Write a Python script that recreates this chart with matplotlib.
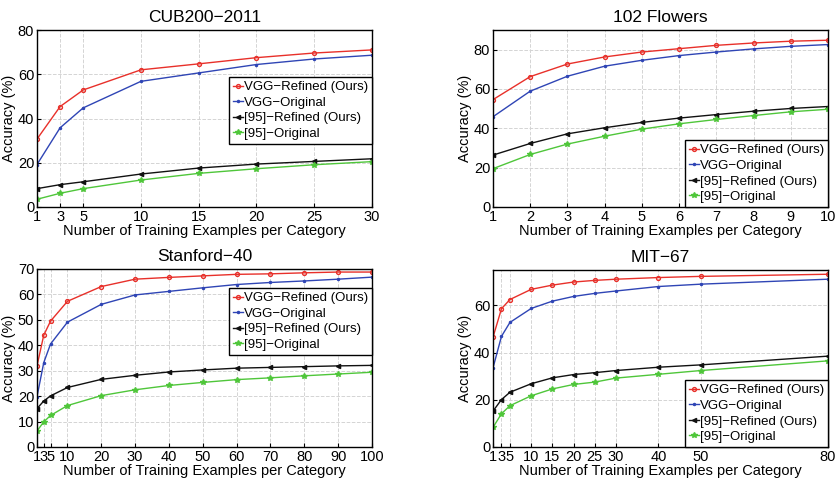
import matplotlib
matplotlib.use('Agg')
import matplotlib.pyplot as plt

plt.rcParams['font.family'] = ['Liberation Sans', 'DejaVu Sans']

M = '\u2212'
labels = ['VGG%sRefined (Ours)' % M, 'VGG%sOriginal' % M,
          '[95]%sRefined (Ours)' % M, '[95]%sOriginal' % M]

# CUB200-2011
cub_x = [1, 3, 5, 10, 15, 20, 25, 30]
cub_vgg_ref = [30.7, 45.4, 52.9, 62.0, 64.7, 67.5, 69.6, 71.0]
cub_vgg_org = [19.2, 35.8, 44.8, 56.8, 60.6, 64.4, 66.9, 68.6]
cub_95_ref = [8.3, 10.1, 11.4, 14.9, 17.6, 19.4, 20.6, 21.8]
cub_95_org = [3.5, 6.2, 8.3, 12.2, 15.2, 17.3, 19.1, 20.5]

# 102 Flowers
flw_x = [1, 2, 3, 4, 5, 6, 7, 8, 9, 10]
flw_vgg_ref = [54.6, 66.3, 72.7, 76.3, 78.8, 80.5, 82.2, 83.4, 84.3, 84.8]
flw_vgg_org = [45.9, 58.9, 66.5, 71.6, 74.6, 77.0, 78.8, 80.4, 81.7, 82.6]
flw_95_ref = [26.4, 32.3, 37.2, 40.3, 43.0, 45.2, 47.0, 48.7, 50.1, 51.1]
flw_95_org = [19.5, 26.7, 32.0, 36.0, 39.6, 42.3, 44.5, 46.5, 48.4, 49.7]

# Stanford-40
stf_x = [1, 3, 5, 10, 20, 30, 40, 50, 60, 70, 80, 90, 100]
stf_vgg_ref = [31.9, 44.0, 49.5, 57.3, 63.1, 66.0, 66.7, 67.3, 67.9, 68.1, 68.5, 68.8, 68.8]
stf_vgg_org = [19.8, 33.2, 40.5, 49.1, 56.1, 59.8, 61.2, 62.6, 63.9, 64.7, 65.3, 66.0, 66.8]
stf_95_ref = [15.1, 18.1, 20.1, 23.4, 26.6, 28.2, 29.5, 30.3, 31.0, 31.3, 31.6, 31.9, 32.1]
stf_95_org = [6.3, 9.9, 12.4, 16.3, 20.2, 22.5, 24.2, 25.4, 26.5, 27.2, 28.0, 28.7, 29.4]

# MIT-67
mit_x = [1, 3, 5, 10, 15, 20, 25, 30, 40, 50, 80]
mit_vgg_ref = [46.5, 58.6, 62.5, 66.8, 68.6, 69.9, 70.6, 71.1, 71.8, 72.3, 73.2]
mit_vgg_org = [33.5, 46.9, 52.8, 58.7, 61.8, 63.8, 65.1, 66.1, 68.0, 69.0, 71.1]
mit_95_ref = [15.2, 20.1, 23.2, 26.8, 29.3, 30.7, 31.5, 32.4, 33.8, 34.8, 38.5]
mit_95_org = [8.3, 14.1, 17.5, 21.7, 24.6, 26.5, 27.5, 29.2, 30.8, 32.4, 36.5]

panels = [
    ('CUB200%s2011' % M, cub_x, [cub_vgg_ref, cub_vgg_org, cub_95_ref, cub_95_org],
     (0, 80), [0, 20, 40, 60, 80], ('upper right', (1.0, 0.734))),
    ('102 Flowers', flw_x, [flw_vgg_ref, flw_vgg_org, flw_95_ref, flw_95_org],
     (0, 90), [0, 20, 40, 60, 80], ('lower right', (1.0, 0.0))),
    ('Stanford%s40' % M, stf_x, [stf_vgg_ref, stf_vgg_org, stf_95_ref, stf_95_org],
     (0, 70), [0, 10, 20, 30, 40, 50, 60, 70], ('upper right', (1.0, 0.893))),
    ('MIT%s67' % M, mit_x, [mit_vgg_ref, mit_vgg_org, mit_95_ref, mit_95_org],
     (0, 75), [0, 20, 40, 60], ('lower right', (1.0, 0.0))),
]

colors = ['#e8302a', '#2f45b5', '#111111', '#4fc63a']
markers = ['o', '.', '<', '*']
msizes = [2.8, 3.0, 3.0, 3.8]

fig = plt.figure(figsize=(8.35, 4.8), dpi=100)
W, H = 835.0, 480.0
boxes = [(37, 30, 372, 207), (493, 30, 828, 207),
         (37, 269, 372, 447), (493, 270, 828, 447)]

for (title, xs, series, ylim, yticks, (loc, anchor)), (x0, y0, x1, y1) in zip(panels, boxes):
    ax = fig.add_axes([x0 / W, 1 - y1 / H, (x1 - x0) / W, (y1 - y0) / H])
    for ys, c, m, ms, lab in zip(series, colors, markers, msizes, labels):
        ax.plot(xs, ys, color=c, marker=m, markersize=ms, linewidth=1.0,
                markerfacecolor='none' if m == 'o' else c, label=lab)
    ax.set_xlim(xs[0], xs[-1])
    ax.set_ylim(*ylim)
    ax.set_xticks(xs)
    ax.set_yticks(yticks)
    ax.tick_params(direction='in', length=3, labelsize=10.5, pad=2)
    ax.grid(True, linestyle='--', color='#d4d4d4', linewidth=0.7)
    for s in ax.spines.values():
        s.set_linewidth(1.0)
    ax.set_title(title, fontsize=12.5, pad=6)
    ax.set_xlabel('Number of Training Examples per Category', fontsize=10.5, labelpad=0)
    ax.set_ylabel('Accuracy (%)', fontsize=10.5, labelpad=1)
    leg = ax.legend(loc=loc, bbox_to_anchor=anchor, borderaxespad=0, fontsize=9.5,
                    handlelength=0.7, handletextpad=0.1, labelspacing=0.25,
                    borderpad=0.3, fancybox=False, framealpha=1, edgecolor='black')
    leg.get_frame().set_linewidth(1.0)

fig.savefig('out.png', dpi=100)
